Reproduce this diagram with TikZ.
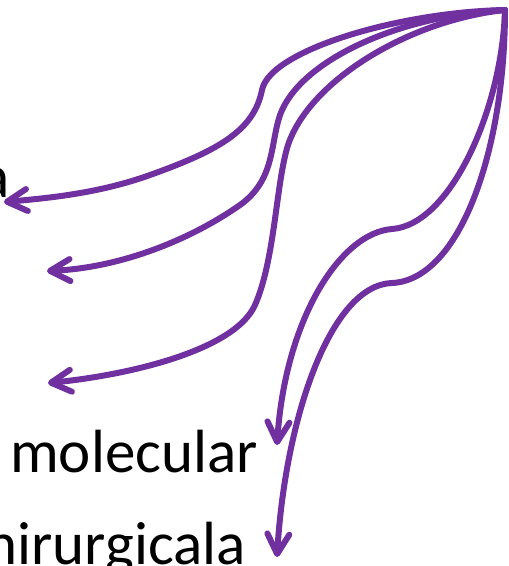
\documentclass[tikz,border=0pt]{standalone}
\usepackage{fontspec}
\setmainfont{Carlito}
\usetikzlibrary{arrows.meta}
\definecolor{flowpurple}{HTML}{7030A0}

\begin{document}
\begin{tikzpicture}[
    x=1pt, y=-1pt,
    link/.style={draw=flowpurple, line width=6pt, line cap=round, line join=round,
                 -{Straight Barb[length=20pt, width=22pt, round]}},
    word/.style={inner sep=0pt, anchor=base east, text=black,
                 font=\fontsize{61}{70}\selectfont},
]
\useasboundingbox (0,0) rectangle (509,566);
\clip (0,0) rectangle (509,566);
% labels, cut by the frame
\node[word] (partA) at (10,197) {a};
\node[word] (molec) at (258,472) {molecular};
\node[word] (chir) at (246,564) {hirurgicala};
% common source and arrow ends
\coordinate (src) at (505,10);
\coordinate (tipA) at (4,202);
\coordinate (tipB) at (47,271);
\coordinate (tipC) at (48,383);
\coordinate (tipD) at (277,445);
\coordinate (tipE) at (277,557);
% curved links
\draw[link] (src) .. controls (400,12) and (270,50) .. (262,90)
    .. controls (254,130) and (220,150) .. (150,175)
    .. controls (100,193) and (50,198) .. (tipA);
\draw[link] (src) .. controls (400,15) and (300,60) .. (280,115)
    .. controls (270,145) and (275,180) .. (240,205)
    .. controls (190,240) and (120,268) .. (tipB);
\draw[link] (src) .. controls (410,20) and (310,80) .. (288,145)
    .. controls (276,183) and (275,260) .. (255,305)
    .. controls (235,350) and (130,375) .. (tipC);
\draw[link] (src) .. controls (502,110) and (450,225) .. (392,229)
    .. controls (340,233) and (285,320) .. (tipD);
\draw[link] (src) .. controls (505,150) and (460,280) .. (392,283)
    .. controls (330,285) and (285,420) .. (tipE);
\end{tikzpicture}
\end{document}
